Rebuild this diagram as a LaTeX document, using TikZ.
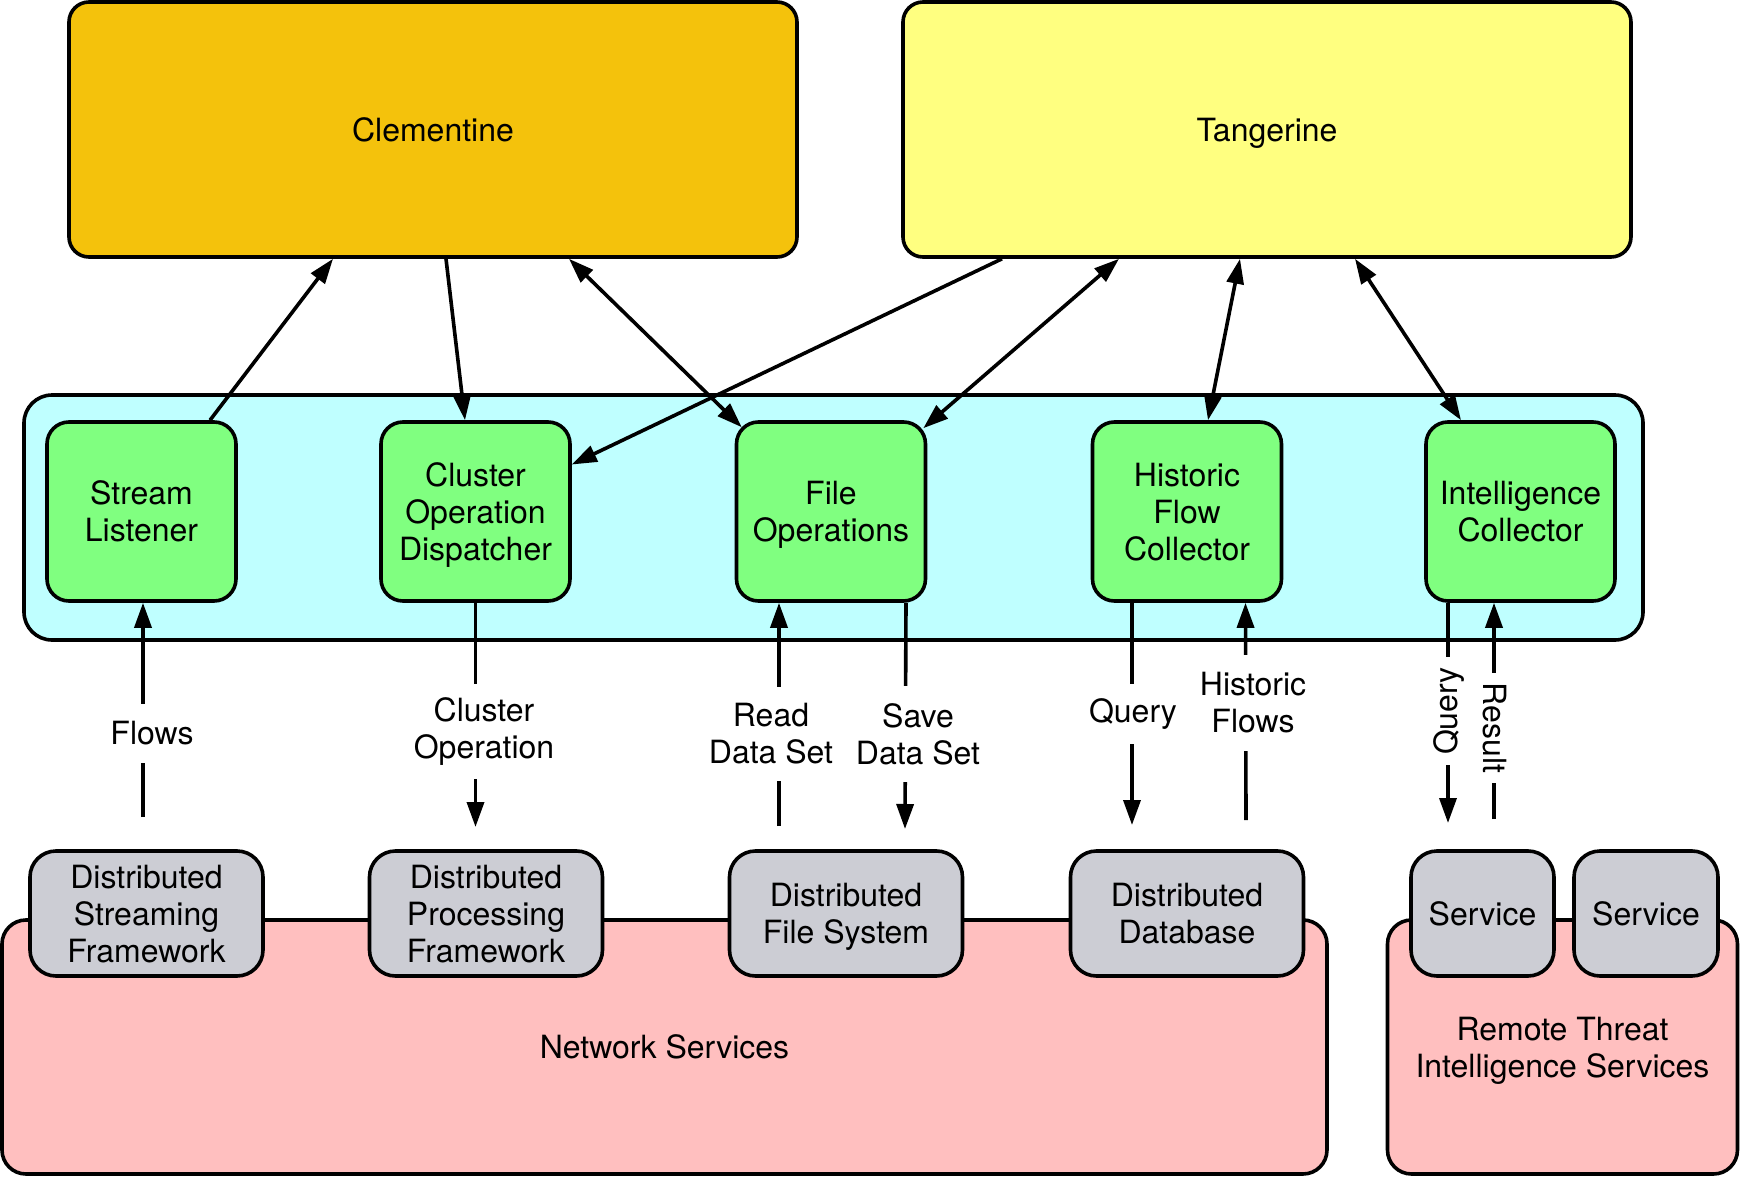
\documentclass[tikz,border=0pt]{standalone}
\usepackage{fontspec}
\setmainfont{TeX Gyre Heros}
\usetikzlibrary{arrows.meta,calc}
\definecolor{clemfill}{HTML}{F4C20C}
\definecolor{tangfill}{HTML}{FFFF80}
\definecolor{cyanfill}{HTML}{BFFFFF}
\definecolor{greenfill}{HTML}{80FF80}
\definecolor{grayfill}{HTML}{CCCDD4}
\definecolor{pinkfill}{HTML}{FFBFBF}
\begin{document}
\begin{tikzpicture}[x=0.5pt,y=-0.5pt,
  font=\fontsize{16}{18.5}\selectfont,
  box/.style={draw, line width=1.8pt, rounded corners=11pt, align=center, inner sep=0pt, text depth=0pt},
  topbox/.style={box, minimum width=364pt, minimum height=127.5pt, rounded corners=10pt},
  compbox/.style={box, fill=greenfill, minimum width=94.5pt, minimum height=89.5pt},
  svcbox/.style={box, fill=grayfill, minimum width=116.5pt, minimum height=62.5pt, rounded corners=13pt},
  arr/.style={line width=1.8pt, -{Triangle[length=12.5pt,width=8.5pt]}},
  darr/.style={line width=1.8pt, {Triangle[length=12.5pt,width=8.5pt]}-{Triangle[length=12.5pt,width=8.5pt]}},
  lab/.style={fill=white, align=center, inner xsep=1pt}]
\path[use as bounding box] (0,0) rectangle (1742,1178);

% bottom service groups
\node[box, fill=pinkfill, minimum width=662.5pt, minimum height=127pt, rounded corners=12pt] (net) at (664.5,1047) {Network Services};
\node[box, fill=pinkfill, minimum width=175pt, minimum height=127pt, rounded corners=12pt] (remote) at (1562.5,1047) {Remote Threat\\Intelligence Services};
\node[svcbox] (dsf) at (146.5,913.5) {Distributed\\Streaming\\Framework};
\node[svcbox] (dpf) at (486,913.5) {Distributed\\Processing\\Framework};
\node[svcbox] (dfs) at (846,913.5) {Distributed\\File System};
\node[svcbox] (ddb) at (1187,913.5) {Distributed\\Database};
\node[svcbox, minimum width=71.5pt] (svc1) at (1482.5,913.5) {Service};
\node[svcbox, minimum width=72pt] (svc2) at (1646,913.5) {Service};

% component container
\node[box, fill=cyanfill, minimum width=809.5pt, minimum height=122.5pt, rounded corners=14pt] (cont) at (833.5,517.5) {};
\node[compbox] (stream) at (141.5,511.5) {Stream\\Listener};
\node[compbox] (cluster) at (475.5,511.5) {Cluster\\Operation\\Dispatcher};
\node[compbox] (fileop) at (831,511.5) {File\\Operations};
\node[compbox] (hist) at (1187,511.5) {Historic\\Flow\\Collector};
\node[compbox] (intel) at (1520.5,511.5) {Intelligence\\Collector};

% top boxes
\node[topbox, fill=clemfill] (clem) at (433,129.5) {Clementine};
\node[topbox, fill=tangfill] (tang) at (1267,129.5) {Tangerine};

% connectors to top boxes
\draw[arr] ($(stream.north)+(68.5,0)$) -- ($(clem.south)+(-100,0)$);
\draw[arr] ($(clem.south)+(13,0)$) -- ($(cluster.north)+(-10.5,0)$);
\draw[darr] ($(clem.south)+(136,0)$) -- ($(fileop.north west)+(7,7)$);
\draw[arr] ($(tang.south)+(-265,0)$) -- ($(cluster.east)+(0,-47)$);
\draw[darr] ($(tang.south)+(-148,0)$) -- ($(fileop.north east)+(-4,8)$);
\draw[darr] ($(tang.south)+(-27,0)$) -- ($(hist.north)+(21,0)$);
\draw[darr] ($(tang.south)+(88,0)$) -- ($(intel.north)+(-59.5,0)$);

% free ends of the lower connectors
\coordinate (flowsend) at (143,817);
\coordinate (clopend) at (475.5,827);
\coordinate (readend) at (779,826);
\coordinate (saveend) at (905,829);
\coordinate (queryend) at (1132,825);
\coordinate (histend) at (1246,820);
\coordinate (rqueryend) at (1448,823);
\coordinate (resultend) at (1494,819);

% lower connectors
\draw[arr] (flowsend) -- ($(stream.south)+(1.5,0)$);
\draw[arr] (cluster.south) -- (clopend);
\draw[arr] (readend) -- ($(fileop.south)+(-52,0)$);
\draw[arr] ($(fileop.south)+(75,0)$) -- (saveend);
\draw[arr] ($(hist.south)+(-55,0)$) -- (queryend);
\draw[arr] (histend) -- ($(hist.south)+(58.5,0)$);
\draw[arr] ($(intel.south)+(-72.5,0)$) -- (rqueryend);
\draw[arr] (resultend) -- ($(intel.south)+(-26.5,0)$);

% labels
\node[lab, inner ysep=9pt] (lflows) at (152,733.5) {Flows};
\node[lab, inner ysep=7pt] (lclop) at (484,731.5) {Cluster\\Operation};
\node[lab, inner ysep=8.5pt] (lread) at (771,734) {Read\\Data Set};
\node[lab, inner ysep=8.5pt] (lsave) at (918,734) {Save\\Data Set};
\node[lab, inner ysep=7.5pt] (lquery) at (1133,714) {Query};
\node[lab, inner ysep=9pt] (lhist) at (1253,703) {Historic\\Flows};
\node[lab, rotate=90, inner xsep=5pt, inner ysep=1pt] (lrquery) at (1449,711) {Query};
\node[lab, rotate=-90, inner xsep=5pt, inner ysep=1pt] (lresult) at (1495,728) {Result};
\end{tikzpicture}
\end{document}
